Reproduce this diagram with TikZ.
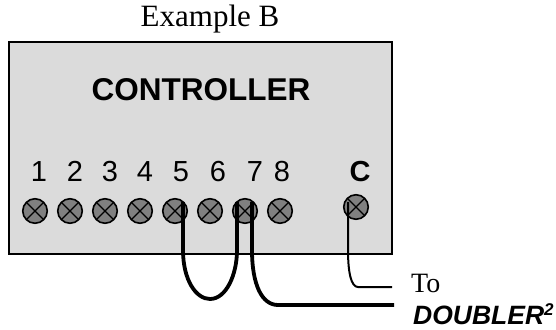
\documentclass[tikz,border=0pt]{standalone}
\usepackage{fontspec}
\setmainfont{Liberation Sans}
\newfontfamily\serifface{Liberation Serif}
\begin{document}
\begin{tikzpicture}[x=1pt,y=-1pt,
  term/.style={circle,draw=black,line width=1.6pt,fill=black!50,minimum size=24.5pt,inner sep=0pt,path picture={
    \draw[black,line width=1.4pt] ([xshift=3pt,yshift=3pt]path picture bounding box.south west) -- ([xshift=-3pt,yshift=-3pt]path picture bounding box.north east);
    \draw[black,line width=1.4pt] ([xshift=3pt,yshift=-3pt]path picture bounding box.north west) -- ([xshift=-3pt,yshift=3pt]path picture bounding box.south east);}},
  num/.style={anchor=base,font=\fontsize{29}{29}\selectfont,inner sep=0pt},
  thick wire/.style={draw=black,line width=3.8pt},
  thin wire/.style={draw=black,line width=2pt},
  serif label/.style={anchor=base,inner sep=0pt,font=\serifface\fontsize{31}{31}\selectfont}]
\useasboundingbox (0,0) rectangle (556,329);
\node[draw=black,line width=1.6pt,fill=black!14,minimum width=383pt,minimum height=212pt,inner sep=0pt,anchor=north west] (box) at (8,41) {};
\node[serif label] (title) at (210,27) {Example B};
\node[anchor=base,inner sep=0pt,font=\bfseries\fontsize{31.5}{31.5}\selectfont] (ctrl) at (201,100) {CONTROLLER};
\foreach \n/\x in {1/39,2/75,3/110,4/145,5/181,6/218,7/255,8/282}
  \node[num] (n\n) at (\x,181) {\n};
\node[num,font=\bfseries\fontsize{29}{29}\selectfont] (nC) at (360,181) {C};
\foreach \n/\x in {1/35,2/70,3/105,4/140,5/175,6/210,7/245,8/280}
  \node[term] (t\n) at (\x,211) {};
\node[term] (tC) at (356,207) {};
\coordinate (end7) at (394,305);
\coordinate (endC) at (392,287);
\path[thick wire] ([xshift=8pt,yshift=9pt]t5.center) -- (183,250) .. controls (183,280) and (196,299) .. (210,299)
   .. controls (226,299) and (237,275) .. (237,250) -- ([xshift=-8pt,yshift=9pt]t7.center);
\path[thick wire] ([xshift=7pt,yshift=9pt]t7.center) -- (252,250) .. controls (252,285) and (262,305) .. (278,305) -- (end7);
\path[thin wire] ([xshift=-8pt,yshift=5pt]tC.center) -- (348,250) .. controls (348,272) and (351,287) .. (358,287) -- (endC);
\node[anchor=base west,inner sep=0pt,font=\serifface\fontsize{28}{28}\selectfont] (to) at (411,292) {To};
\node[anchor=base west,inner sep=0pt,font=\bfseries\itshape\fontsize{26.5}{26.5}\selectfont] (dbl) at (413,324) {DOUBLER\raisebox{9pt}{\fontsize{17}{17}\selectfont 2}};
\end{tikzpicture}
\end{document}
